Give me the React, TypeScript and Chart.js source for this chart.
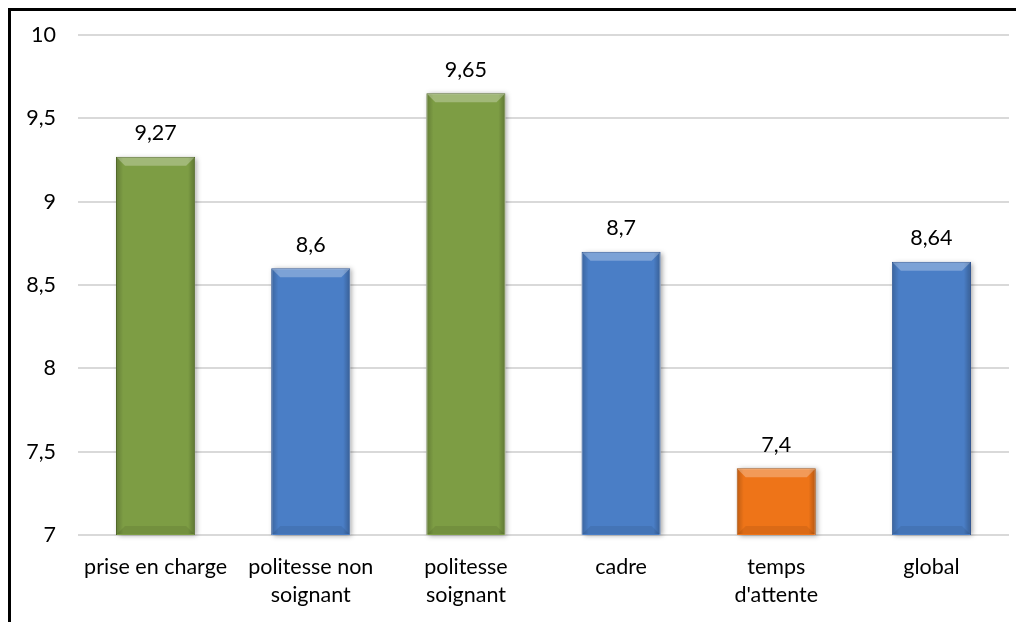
import React, { useEffect, useRef } from "react";
import { Chart, registerables } from "chart.js";

Chart.register(...registerables);

const categories: (string | string[])[] = [
  "prise en charge",
  ["politesse non", "soignant"],
  ["politesse", "soignant"],
  "cadre",
  ["temps", "d'attente"],
  "global",
];
const scores: number[] = [9.27, 8.6, 9.65, 8.7, 7.4, 8.64];
const barColors: string[] = ["#7D9D44", "#4A7EC6", "#7D9D44", "#4A7EC6", "#EE7418", "#4A7EC6"];
const barBorders: string[] = ["#4F6626", "#2F5490", "#4F6626", "#2F5490", "#9C4A0A", "#2F5490"];
const yMin = 7;
const yMax = 10;
const yStep = 0.5;

const FONT = "Lato, 'Open Sans', sans-serif";
const FSIZE = 21.5;

const fmt = (v: number) => String(v).replace(".", ",");

const bevelPlugin = {
  id: "bevel",
  beforeDatasetsDraw(chart: any) {
    const ctx = chart.ctx;
    const bottom = chart.chartArea.bottom;
    ctx.save();
    ctx.shadowColor = "rgba(0,0,0,0.35)";
    ctx.shadowBlur = 5;
    ctx.shadowOffsetX = 2;
    ctx.shadowOffsetY = 1;
    const meta = chart.getDatasetMeta(0);
    meta.data.forEach((bar: any) => {
      const w = bar.width;
      ctx.fillStyle = "rgba(255,255,255,1)";
      ctx.fillRect(bar.x - w / 2, bar.y, w, bottom - bar.y);
    });
    ctx.restore();
  },
  afterDatasetsDraw(chart: any) {
    const ctx = chart.ctx;
    const bottom = chart.chartArea.bottom;
    const meta = chart.getDatasetMeta(0);
    meta.data.forEach((bar: any, i: number) => {
      const l = bar.x - bar.width / 2 + 1;
      const r = bar.x + bar.width / 2 - 1;
      const t = bar.y + 1;
      const b = bottom - 1;
      const bv = 8;
      ctx.save();
      const g = ctx.createLinearGradient(l, 0, r, 0);
      g.addColorStop(0, "rgba(0,0,0,0.18)");
      g.addColorStop(0.08, "rgba(0,0,0,0)");
      g.addColorStop(0.92, "rgba(0,0,0,0)");
      g.addColorStop(1, "rgba(0,0,0,0.22)");
      ctx.fillStyle = g;
      ctx.fillRect(l, t, r - l, b - t);
      ctx.beginPath();
      ctx.moveTo(l, t);
      ctx.lineTo(r, t);
      ctx.lineTo(r - bv, t + bv);
      ctx.lineTo(l + bv, t + bv);
      ctx.closePath();
      ctx.fillStyle = "rgba(255,255,255,0.28)";
      ctx.fill();
      ctx.beginPath();
      ctx.moveTo(l, b);
      ctx.lineTo(r, b);
      ctx.lineTo(r - bv, b - bv);
      ctx.lineTo(l + bv, b - bv);
      ctx.closePath();
      ctx.fillStyle = "rgba(0,0,0,0.08)";
      ctx.fill();
      ctx.restore();
      ctx.save();
      ctx.font = `${FSIZE}px ${FONT}`;
      ctx.fillStyle = "#000";
      ctx.textAlign = "center";
      ctx.textBaseline = "bottom";
      ctx.fillText(fmt(scores[i]), bar.x, bar.y - 13);
      ctx.restore();
    });
  },
};

export default function App() {
  const ref = useRef<HTMLCanvasElement | null>(null);
  useEffect(() => {
    document.body.style.overflow = "hidden";
    const chart = new Chart(ref.current as HTMLCanvasElement, {
      type: "bar",
      data: {
        labels: categories,
        datasets: [
          {
            data: scores,
            backgroundColor: barColors,
            borderColor: barBorders,
            borderWidth: 1,
            barPercentage: 0.51,
            categoryPercentage: 1,
          },
        ],
      },
      options: {
        animation: false,
        responsive: false,
        layout: { padding: { left: 0, right: 15, top: 24, bottom: 0 } },
        plugins: { legend: { display: false }, tooltip: { enabled: false } },
        scales: {
          x: {
            grid: { display: false },
            border: { display: false },
            ticks: {
              color: "#000",
              font: { family: FONT, size: FSIZE, lineHeight: 1.3 },
              padding: 10,
              maxRotation: 0,
              autoSkip: false,
            },
            afterFit(scale: any) {
              scale.height = 87;
              scale.paddingLeft = 0;
              scale.paddingRight = 0;
            },
          },
          y: {
            min: yMin,
            max: yMax,
            grid: { color: "#D9D9D9", lineWidth: 2, drawTicks: false },
            border: { display: false },
            ticks: {
              stepSize: yStep,
              color: "#000",
              font: { family: FONT, size: FSIZE },
              padding: 22,
              callback: (v: any) => fmt(Number(v)),
            },
            afterFit(scale: any) {
              scale.width = 67;
              scale.paddingTop = 0;
              scale.paddingBottom = 0;
            },
          },
        },
      },
      plugins: [bevelPlugin],
    });
    return () => chart.destroy();
  }, []);
  return (
    <div
      style={{
        width: 1013,
        height: 611,
        borderLeft: "3px solid #000",
        borderTop: "3px solid #000",
        overflow: "hidden",
      }}
    >
      <canvas ref={ref} width={1013} height={611} style={{ display: "block" }} />
    </div>
  );
}
